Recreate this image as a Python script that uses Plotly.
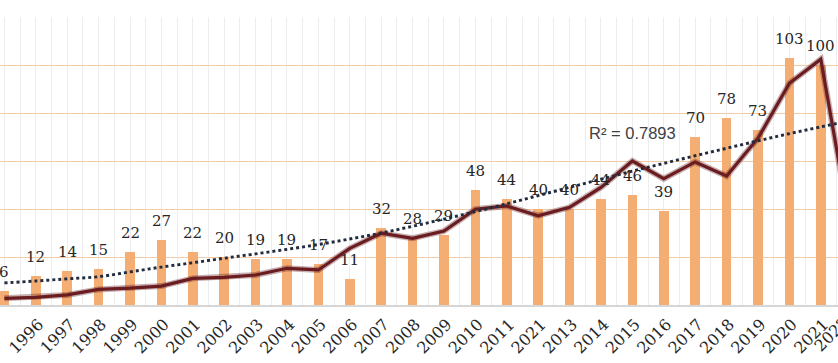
import plotly.graph_objects as go

# ---------------- data ----------------
years = ["1995", "1996", "1997", "1998", "1999", "2000", "2001", "2002", "2003",
         "2004", "2005", "2006", "2007", "2008", "2009", "2010", "2011", "2021",
         "2013", "2014", "2015", "2016", "2017", "2018", "2019", "2020", "2021",
         "2022"]
publications = [6, 12, 14, 15, 22, 27, 22, 20, 19, 19, 17, 11, 32, 28, 29, 48,
                 44, 40, 40, 44, 46, 39, 70, 78, 73, 103, 100, None]
line_values = [2.8, 3.2, 4.2, 6.5, 7, 7.9, 11.1, 11.5, 12.5, 15.3, 14.6, 23.6,
               29.9, 27.8, 30.8, 39.9, 41.25, 37.2, 40.7, 49, 60, 52.6, 59.6,
               53.75, 69.5, 92.4, 102.4, 28]
trend_values = [9.2, 10.0, 10.9, 11.8, 13.8, 15.8, 17.6, 19.5, 21.3, 23.2, 25.2,
                27.5, 30.0, 32.8, 35.8, 38.9, 42.2, 45.6, 49.0, 52.4, 55.8, 59.0,
                62.2, 65.3, 68.4, 71.4, 74.2, 77.0]
r2_label = "R² = 0.7893"

idx = list(range(len(years)))
x_range = [-0.14, 26.548]

SERIF = "DejaVu Serif"
TICK_SIZE = 16

fig = go.Figure()

fig.add_trace(go.Bar(x=idx, y=publications, width=0.3,
                     marker=dict(color="#F4AE73", line=dict(width=0)),
                     name="Publications"))
fig.add_trace(go.Scatter(x=idx, y=line_values, mode="lines",
                         line=dict(color="rgba(95,25,28,0.35)", width=6),
                         hoverinfo="skip", showlegend=False))
fig.add_trace(go.Scatter(x=idx, y=line_values, mode="lines",
                         line=dict(color="#6B1C20", width=3.2),
                         name="Line"))
fig.add_trace(go.Scatter(x=idx, y=trend_values, mode="lines",
                         line=dict(color="#222C3E", width=2.9, dash="dot",
                                   shape="spline"),
                         name="Trend"))

for i, v in zip(idx, publications):
    if v is None:
        continue
    fig.add_annotation(x=i, y=v, text=str(v), showarrow=False,
                       yanchor="bottom", yshift=8,
                       font=dict(family=SERIF, size=15, color="#262626"))

fig.add_annotation(x=20, y=71.7, text=r2_label, showarrow=False,
                   font=dict(family="Liberation Sans", size=16.5, color="#404040"))

# last (partly hidden) year label beyond the visible range
last_frac = (idx[-1] - x_range[0]) / (x_range[1] - x_range[0])
fig.add_annotation(x=last_frac, xref="paper", y=0, yref="paper",
                   text=years[-1], showarrow=False, textangle=-45,
                   xanchor="right", yanchor="top", yshift=-5, xshift=3,
                   font=dict(family=SERIF, size=TICK_SIZE, color="#262626"))

fig.update_layout(
    width=838, height=363,
    margin=dict(l=0, r=0, t=17, b=58),
    plot_bgcolor="white", paper_bgcolor="white",
    showlegend=False,
    bargap=0,
    xaxis=dict(range=x_range, tickmode="array", tickvals=idx, ticktext=years,
               tickangle=-45, automargin=False,
               ticklabelshift=3, ticklabelstandoff=2,
               tickfont=dict(family=SERIF, size=TICK_SIZE, color="#262626"),
               showgrid=True, gridcolor="#EDEDED", gridwidth=1,
               minor=dict(tickmode="array",
                          tickvals=[i + 0.5 for i in idx[:-1]] + [-0.5],
                          showgrid=True, gridcolor="#EDEDED", gridwidth=1),
               showline=True, linecolor="#D6D6D6", linewidth=1.5,
               zeroline=False, ticks=""),
    yaxis=dict(range=[0, 120], dtick=20, showticklabels=False,
               showgrid=True, gridcolor="#F2CBA8", gridwidth=1.4,
               zeroline=False, automargin=False),
)

fig.write_html("out.html",
               config={"displayModeBar": False},
               post_script="document.body.style.margin='0';"
                           "document.body.style.overflow='hidden';")
